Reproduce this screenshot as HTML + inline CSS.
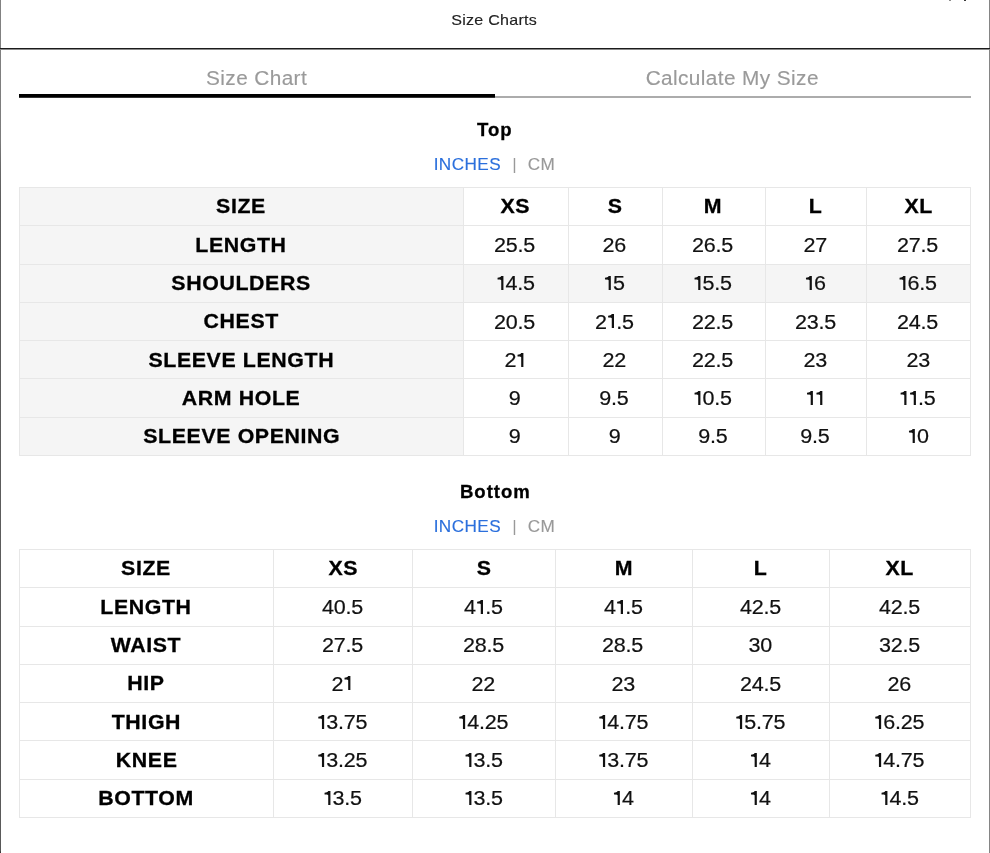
<!DOCTYPE html>
<html><head><meta charset="utf-8"><title>Size Charts</title>
<style>
:root{--g1:#f5f5f5;--g2:#f5f5f5;--bd:#e7e7e7;}
*{margin:0;padding:0;box-sizing:border-box;}
html,body{width:990px;height:853px;overflow:hidden;background:#fff;}
body{font-family:"Liberation Sans",sans-serif;color:#111;}
#w{position:relative;width:990px;height:853px;background:#fff;will-change:transform;overflow:hidden;}
.abs{position:absolute;}
.lb{position:absolute;left:0;top:0;width:1px;height:853px;background:linear-gradient(#828282 0px,#7c7c7c 140px,#6a6a6a 165px,#5e5e5e 200px,#5a5a5a 840px,#555 851px,#333 852px);}
.rb{position:absolute;left:989px;top:0;width:1px;height:853px;background:#858585;}
.title{position:absolute;left:0;width:990px;text-align:center;font-size:15px;color:#222;letter-spacing:0.25px;-webkit-text-stroke:0.15px #222;}
.sx{display:inline-block;}
.hline{position:absolute;left:0;top:48px;width:990px;height:1px;background:#1c1c1c;}
.hline2{position:absolute;left:0;top:49px;width:990px;height:1px;background:#8a8a8a;}
.tab{position:absolute;width:476px;text-align:center;font-size:20px;color:#9a9a9a;letter-spacing:0.38px;-webkit-text-stroke:0.15px #9a9a9a;}
.tabg{position:absolute;left:19px;top:96px;width:952px;height:2px;background:#acacac;}
.tabb{position:absolute;left:19px;top:94px;width:476px;height:3px;background:#000;}
.tabb2{position:absolute;left:19px;top:97px;width:476px;height:1px;background:#333;}
.sec{position:absolute;left:0;width:990px;text-align:center;font-size:17.5px;font-weight:bold;color:#000;letter-spacing:0.9px;-webkit-text-stroke:0.3px #000;}
.unit{position:absolute;left:-1px;width:990px;text-align:center;font-size:16.5px;letter-spacing:0.4px;}
.unit .in{color:#2b6fdc;-webkit-text-stroke:0.15px #2b6fdc;}
.unit .sep{color:#999;padding:0 10.3px 0 10.8px;}
.unit .cm{color:#999;-webkit-text-stroke:0.15px #999;}
.c{position:absolute;display:flex;align-items:center;justify-content:center;white-space:nowrap;}
.c span{position:relative;display:inline-block;}
.c.d{font-size:20.5px;color:#111;letter-spacing:-0.2px;-webkit-text-stroke:0.2px #111;}
.c.d span{top:0.0px;left:-0.8px;transform:scaleX(1.05);}
.c.h{font-weight:bold;color:#000;letter-spacing:0.6px;font-size:20.5px;-webkit-text-stroke:0.3px #000;}
.c.h span{top:-0.2px;left:-0.2px;transform:scaleX(1.04);}
svg.one{display:inline-block;width:9px;height:14.1px;vertical-align:baseline;fill:#111;}
.hl{position:absolute;height:1px;background:var(--bd);}
.vl{position:absolute;width:1px;background:var(--bd);}
.xm{position:absolute;top:0;height:1px;}
</style></head>
<body><div id="w">
<div class="lb"></div><div class="rb"></div>
<div class="xm" style="left:949px;width:2px;background:#8c8c8c"></div>
<div class="xm" style="left:964px;width:2px;background:#3a3a3a"></div>
<div class="title" style="top:9.5px;left:-0.6px;line-height:20px"><span class="sx" style="transform:scaleX(1.07)">Size Charts</span></div>
<div class="hline"></div><div class="hline2"></div>
<div class="tab" style="left:18.6px;top:64px;line-height:28px"><span class="sx" style="transform:scaleX(1.04)">Size Chart</span></div>
<div class="tab" style="left:494.2px;top:64px;line-height:28px"><span class="sx" style="transform:scaleX(1.04)">Calculate My Size</span></div>
<div class="tabg"></div>
<div class="tabb"></div><div class="tabb2"></div>

<div class="sec" style="top:118px;line-height:24px"><span class="sx" style="transform:scaleX(1.06)">Top</span></div>
<div class="unit" style="top:153px;line-height:22px"><span class="sx" style="transform:scaleX(1.04)"><span class="in">INCHES</span><span class="sep">|</span><span class="cm">CM</span></span></div>
<div class="c h" style="left:19.50px;top:187.50px;width:444.00px;height:38.286px;background:var(--g1);"><span>SIZE</span></div>
<div class="c h" style="left:463.50px;top:187.50px;width:104.50px;height:38.286px;"><span>XS</span></div>
<div class="c h" style="left:568.00px;top:187.50px;width:94.00px;height:38.286px;"><span>S</span></div>
<div class="c h" style="left:662.00px;top:187.50px;width:103.00px;height:38.286px;"><span>M</span></div>
<div class="c h" style="left:765.00px;top:187.50px;width:101.90px;height:38.286px;"><span>L</span></div>
<div class="c h" style="left:866.90px;top:187.50px;width:103.40px;height:38.286px;"><span>XL</span></div>
<div class="c h" style="left:19.50px;top:225.79px;width:444.00px;height:38.286px;background:var(--g1);"><span>LENGTH</span></div>
<div class="c d" style="left:463.50px;top:225.79px;width:104.50px;height:38.286px;"><span>25.5</span></div>
<div class="c d" style="left:568.00px;top:225.79px;width:94.00px;height:38.286px;"><span>26</span></div>
<div class="c d" style="left:662.00px;top:225.79px;width:103.00px;height:38.286px;"><span>26.5</span></div>
<div class="c d" style="left:765.00px;top:225.79px;width:101.90px;height:38.286px;"><span>27</span></div>
<div class="c d" style="left:866.90px;top:225.79px;width:103.40px;height:38.286px;"><span>27.5</span></div>
<div class="c h" style="left:19.50px;top:264.07px;width:444.00px;height:38.286px;background:var(--g1);"><span>SHOULDERS</span></div>
<div class="c d" style="left:463.50px;top:264.07px;width:104.50px;height:38.286px;background:var(--g2);"><span><svg class="one" viewBox="0 0 90 141"><path d="M49 0L70 0L70 141L49 141L49 42C42 36 28 35 14 35L14 17C30 17 45 10 49 0Z"/></svg>4.5</span></div>
<div class="c d" style="left:568.00px;top:264.07px;width:94.00px;height:38.286px;background:var(--g2);"><span><svg class="one" viewBox="0 0 90 141"><path d="M49 0L70 0L70 141L49 141L49 42C42 36 28 35 14 35L14 17C30 17 45 10 49 0Z"/></svg>5</span></div>
<div class="c d" style="left:662.00px;top:264.07px;width:103.00px;height:38.286px;background:var(--g2);"><span><svg class="one" viewBox="0 0 90 141"><path d="M49 0L70 0L70 141L49 141L49 42C42 36 28 35 14 35L14 17C30 17 45 10 49 0Z"/></svg>5.5</span></div>
<div class="c d" style="left:765.00px;top:264.07px;width:101.90px;height:38.286px;background:var(--g2);"><span><svg class="one" viewBox="0 0 90 141"><path d="M49 0L70 0L70 141L49 141L49 42C42 36 28 35 14 35L14 17C30 17 45 10 49 0Z"/></svg>6</span></div>
<div class="c d" style="left:866.90px;top:264.07px;width:103.40px;height:38.286px;background:var(--g2);"><span><svg class="one" viewBox="0 0 90 141"><path d="M49 0L70 0L70 141L49 141L49 42C42 36 28 35 14 35L14 17C30 17 45 10 49 0Z"/></svg>6.5</span></div>
<div class="c h" style="left:19.50px;top:302.36px;width:444.00px;height:38.286px;background:var(--g1);"><span>CHEST</span></div>
<div class="c d" style="left:463.50px;top:302.36px;width:104.50px;height:38.286px;"><span>20.5</span></div>
<div class="c d" style="left:568.00px;top:302.36px;width:94.00px;height:38.286px;"><span>2<svg class="one" viewBox="0 0 90 141"><path d="M49 0L70 0L70 141L49 141L49 42C42 36 28 35 14 35L14 17C30 17 45 10 49 0Z"/></svg>.5</span></div>
<div class="c d" style="left:662.00px;top:302.36px;width:103.00px;height:38.286px;"><span>22.5</span></div>
<div class="c d" style="left:765.00px;top:302.36px;width:101.90px;height:38.286px;"><span>23.5</span></div>
<div class="c d" style="left:866.90px;top:302.36px;width:103.40px;height:38.286px;"><span>24.5</span></div>
<div class="c h" style="left:19.50px;top:340.64px;width:444.00px;height:38.286px;background:var(--g1);"><span>SLEEVE LENGTH</span></div>
<div class="c d" style="left:463.50px;top:340.64px;width:104.50px;height:38.286px;"><span>2<svg class="one" viewBox="0 0 90 141"><path d="M49 0L70 0L70 141L49 141L49 42C42 36 28 35 14 35L14 17C30 17 45 10 49 0Z"/></svg></span></div>
<div class="c d" style="left:568.00px;top:340.64px;width:94.00px;height:38.286px;"><span>22</span></div>
<div class="c d" style="left:662.00px;top:340.64px;width:103.00px;height:38.286px;"><span>22.5</span></div>
<div class="c d" style="left:765.00px;top:340.64px;width:101.90px;height:38.286px;"><span>23</span></div>
<div class="c d" style="left:866.90px;top:340.64px;width:103.40px;height:38.286px;"><span>23</span></div>
<div class="c h" style="left:19.50px;top:378.93px;width:444.00px;height:38.286px;background:var(--g1);"><span>ARM HOLE</span></div>
<div class="c d" style="left:463.50px;top:378.93px;width:104.50px;height:38.286px;"><span>9</span></div>
<div class="c d" style="left:568.00px;top:378.93px;width:94.00px;height:38.286px;"><span>9.5</span></div>
<div class="c d" style="left:662.00px;top:378.93px;width:103.00px;height:38.286px;"><span><svg class="one" viewBox="0 0 90 141"><path d="M49 0L70 0L70 141L49 141L49 42C42 36 28 35 14 35L14 17C30 17 45 10 49 0Z"/></svg>0.5</span></div>
<div class="c d" style="left:765.00px;top:378.93px;width:101.90px;height:38.286px;"><span><svg class="one" viewBox="0 0 90 141"><path d="M49 0L70 0L70 141L49 141L49 42C42 36 28 35 14 35L14 17C30 17 45 10 49 0Z"/></svg><svg class="one" viewBox="0 0 90 141"><path d="M49 0L70 0L70 141L49 141L49 42C42 36 28 35 14 35L14 17C30 17 45 10 49 0Z"/></svg></span></div>
<div class="c d" style="left:866.90px;top:378.93px;width:103.40px;height:38.286px;"><span><svg class="one" viewBox="0 0 90 141"><path d="M49 0L70 0L70 141L49 141L49 42C42 36 28 35 14 35L14 17C30 17 45 10 49 0Z"/></svg><svg class="one" viewBox="0 0 90 141"><path d="M49 0L70 0L70 141L49 141L49 42C42 36 28 35 14 35L14 17C30 17 45 10 49 0Z"/></svg>.5</span></div>
<div class="c h" style="left:19.50px;top:417.21px;width:444.00px;height:38.286px;background:var(--g1);"><span>SLEEVE OPENING</span></div>
<div class="c d" style="left:463.50px;top:417.21px;width:104.50px;height:38.286px;"><span>9</span></div>
<div class="c d" style="left:568.00px;top:417.21px;width:94.00px;height:38.286px;"><span>9</span></div>
<div class="c d" style="left:662.00px;top:417.21px;width:103.00px;height:38.286px;"><span>9.5</span></div>
<div class="c d" style="left:765.00px;top:417.21px;width:101.90px;height:38.286px;"><span>9.5</span></div>
<div class="c d" style="left:866.90px;top:417.21px;width:103.40px;height:38.286px;"><span><svg class="one" viewBox="0 0 90 141"><path d="M49 0L70 0L70 141L49 141L49 42C42 36 28 35 14 35L14 17C30 17 45 10 49 0Z"/></svg>0</span></div>
<div class="hl" style="left:19.00px;top:187.00px;width:951.80px"></div>
<div class="hl" style="left:19.00px;top:225.29px;width:951.80px"></div>
<div class="hl" style="left:19.00px;top:263.57px;width:951.80px"></div>
<div class="hl" style="left:19.00px;top:301.86px;width:951.80px"></div>
<div class="hl" style="left:19.00px;top:340.14px;width:951.80px"></div>
<div class="hl" style="left:19.00px;top:378.43px;width:951.80px"></div>
<div class="hl" style="left:19.00px;top:416.71px;width:951.80px"></div>
<div class="hl" style="left:19.00px;top:455.00px;width:951.80px"></div>
<div class="vl" style="left:19.00px;top:187.00px;height:269.00px"></div>
<div class="vl" style="left:463.00px;top:187.00px;height:269.00px"></div>
<div class="vl" style="left:567.50px;top:187.00px;height:269.00px"></div>
<div class="vl" style="left:661.50px;top:187.00px;height:269.00px"></div>
<div class="vl" style="left:764.50px;top:187.00px;height:269.00px"></div>
<div class="vl" style="left:866.40px;top:187.00px;height:269.00px"></div>
<div class="vl" style="left:969.80px;top:187.00px;height:269.00px"></div>

<div class="sec" style="top:480px;line-height:24px;left:0.75px"><span class="sx" style="transform:scaleX(1.06)">Bottom</span></div>
<div class="unit" style="top:515px;line-height:22px"><span class="sx" style="transform:scaleX(1.04)"><span class="in">INCHES</span><span class="sep">|</span><span class="cm">CM</span></span></div>
<div class="c h" style="left:19.50px;top:549.50px;width:254.00px;height:38.286px;"><span>SIZE</span></div>
<div class="c h" style="left:273.50px;top:549.50px;width:139.40px;height:38.286px;"><span>XS</span></div>
<div class="c h" style="left:412.90px;top:549.50px;width:142.10px;height:38.286px;"><span>S</span></div>
<div class="c h" style="left:555.00px;top:549.50px;width:137.70px;height:38.286px;"><span>M</span></div>
<div class="c h" style="left:692.70px;top:549.50px;width:136.80px;height:38.286px;"><span>L</span></div>
<div class="c h" style="left:829.50px;top:549.50px;width:140.80px;height:38.286px;"><span>XL</span></div>
<div class="c h" style="left:19.50px;top:587.79px;width:254.00px;height:38.286px;"><span>LENGTH</span></div>
<div class="c d" style="left:273.50px;top:587.79px;width:139.40px;height:38.286px;"><span>40.5</span></div>
<div class="c d" style="left:412.90px;top:587.79px;width:142.10px;height:38.286px;"><span>4<svg class="one" viewBox="0 0 90 141"><path d="M49 0L70 0L70 141L49 141L49 42C42 36 28 35 14 35L14 17C30 17 45 10 49 0Z"/></svg>.5</span></div>
<div class="c d" style="left:555.00px;top:587.79px;width:137.70px;height:38.286px;"><span>4<svg class="one" viewBox="0 0 90 141"><path d="M49 0L70 0L70 141L49 141L49 42C42 36 28 35 14 35L14 17C30 17 45 10 49 0Z"/></svg>.5</span></div>
<div class="c d" style="left:692.70px;top:587.79px;width:136.80px;height:38.286px;"><span>42.5</span></div>
<div class="c d" style="left:829.50px;top:587.79px;width:140.80px;height:38.286px;"><span>42.5</span></div>
<div class="c h" style="left:19.50px;top:626.07px;width:254.00px;height:38.286px;"><span>WAIST</span></div>
<div class="c d" style="left:273.50px;top:626.07px;width:139.40px;height:38.286px;"><span>27.5</span></div>
<div class="c d" style="left:412.90px;top:626.07px;width:142.10px;height:38.286px;"><span>28.5</span></div>
<div class="c d" style="left:555.00px;top:626.07px;width:137.70px;height:38.286px;"><span>28.5</span></div>
<div class="c d" style="left:692.70px;top:626.07px;width:136.80px;height:38.286px;"><span>30</span></div>
<div class="c d" style="left:829.50px;top:626.07px;width:140.80px;height:38.286px;"><span>32.5</span></div>
<div class="c h" style="left:19.50px;top:664.36px;width:254.00px;height:38.286px;"><span>HIP</span></div>
<div class="c d" style="left:273.50px;top:664.36px;width:139.40px;height:38.286px;"><span>2<svg class="one" viewBox="0 0 90 141"><path d="M49 0L70 0L70 141L49 141L49 42C42 36 28 35 14 35L14 17C30 17 45 10 49 0Z"/></svg></span></div>
<div class="c d" style="left:412.90px;top:664.36px;width:142.10px;height:38.286px;"><span>22</span></div>
<div class="c d" style="left:555.00px;top:664.36px;width:137.70px;height:38.286px;"><span>23</span></div>
<div class="c d" style="left:692.70px;top:664.36px;width:136.80px;height:38.286px;"><span>24.5</span></div>
<div class="c d" style="left:829.50px;top:664.36px;width:140.80px;height:38.286px;"><span>26</span></div>
<div class="c h" style="left:19.50px;top:702.64px;width:254.00px;height:38.286px;"><span>THIGH</span></div>
<div class="c d" style="left:273.50px;top:702.64px;width:139.40px;height:38.286px;"><span><svg class="one" viewBox="0 0 90 141"><path d="M49 0L70 0L70 141L49 141L49 42C42 36 28 35 14 35L14 17C30 17 45 10 49 0Z"/></svg>3.75</span></div>
<div class="c d" style="left:412.90px;top:702.64px;width:142.10px;height:38.286px;"><span><svg class="one" viewBox="0 0 90 141"><path d="M49 0L70 0L70 141L49 141L49 42C42 36 28 35 14 35L14 17C30 17 45 10 49 0Z"/></svg>4.25</span></div>
<div class="c d" style="left:555.00px;top:702.64px;width:137.70px;height:38.286px;"><span><svg class="one" viewBox="0 0 90 141"><path d="M49 0L70 0L70 141L49 141L49 42C42 36 28 35 14 35L14 17C30 17 45 10 49 0Z"/></svg>4.75</span></div>
<div class="c d" style="left:692.70px;top:702.64px;width:136.80px;height:38.286px;"><span><svg class="one" viewBox="0 0 90 141"><path d="M49 0L70 0L70 141L49 141L49 42C42 36 28 35 14 35L14 17C30 17 45 10 49 0Z"/></svg>5.75</span></div>
<div class="c d" style="left:829.50px;top:702.64px;width:140.80px;height:38.286px;"><span><svg class="one" viewBox="0 0 90 141"><path d="M49 0L70 0L70 141L49 141L49 42C42 36 28 35 14 35L14 17C30 17 45 10 49 0Z"/></svg>6.25</span></div>
<div class="c h" style="left:19.50px;top:740.93px;width:254.00px;height:38.286px;"><span>KNEE</span></div>
<div class="c d" style="left:273.50px;top:740.93px;width:139.40px;height:38.286px;"><span><svg class="one" viewBox="0 0 90 141"><path d="M49 0L70 0L70 141L49 141L49 42C42 36 28 35 14 35L14 17C30 17 45 10 49 0Z"/></svg>3.25</span></div>
<div class="c d" style="left:412.90px;top:740.93px;width:142.10px;height:38.286px;"><span><svg class="one" viewBox="0 0 90 141"><path d="M49 0L70 0L70 141L49 141L49 42C42 36 28 35 14 35L14 17C30 17 45 10 49 0Z"/></svg>3.5</span></div>
<div class="c d" style="left:555.00px;top:740.93px;width:137.70px;height:38.286px;"><span><svg class="one" viewBox="0 0 90 141"><path d="M49 0L70 0L70 141L49 141L49 42C42 36 28 35 14 35L14 17C30 17 45 10 49 0Z"/></svg>3.75</span></div>
<div class="c d" style="left:692.70px;top:740.93px;width:136.80px;height:38.286px;"><span><svg class="one" viewBox="0 0 90 141"><path d="M49 0L70 0L70 141L49 141L49 42C42 36 28 35 14 35L14 17C30 17 45 10 49 0Z"/></svg>4</span></div>
<div class="c d" style="left:829.50px;top:740.93px;width:140.80px;height:38.286px;"><span><svg class="one" viewBox="0 0 90 141"><path d="M49 0L70 0L70 141L49 141L49 42C42 36 28 35 14 35L14 17C30 17 45 10 49 0Z"/></svg>4.75</span></div>
<div class="c h" style="left:19.50px;top:779.21px;width:254.00px;height:38.286px;"><span>BOTTOM</span></div>
<div class="c d" style="left:273.50px;top:779.21px;width:139.40px;height:38.286px;"><span><svg class="one" viewBox="0 0 90 141"><path d="M49 0L70 0L70 141L49 141L49 42C42 36 28 35 14 35L14 17C30 17 45 10 49 0Z"/></svg>3.5</span></div>
<div class="c d" style="left:412.90px;top:779.21px;width:142.10px;height:38.286px;"><span><svg class="one" viewBox="0 0 90 141"><path d="M49 0L70 0L70 141L49 141L49 42C42 36 28 35 14 35L14 17C30 17 45 10 49 0Z"/></svg>3.5</span></div>
<div class="c d" style="left:555.00px;top:779.21px;width:137.70px;height:38.286px;"><span><svg class="one" viewBox="0 0 90 141"><path d="M49 0L70 0L70 141L49 141L49 42C42 36 28 35 14 35L14 17C30 17 45 10 49 0Z"/></svg>4</span></div>
<div class="c d" style="left:692.70px;top:779.21px;width:136.80px;height:38.286px;"><span><svg class="one" viewBox="0 0 90 141"><path d="M49 0L70 0L70 141L49 141L49 42C42 36 28 35 14 35L14 17C30 17 45 10 49 0Z"/></svg>4</span></div>
<div class="c d" style="left:829.50px;top:779.21px;width:140.80px;height:38.286px;"><span><svg class="one" viewBox="0 0 90 141"><path d="M49 0L70 0L70 141L49 141L49 42C42 36 28 35 14 35L14 17C30 17 45 10 49 0Z"/></svg>4.5</span></div>
<div class="hl" style="left:19.00px;top:549.00px;width:951.80px"></div>
<div class="hl" style="left:19.00px;top:587.29px;width:951.80px"></div>
<div class="hl" style="left:19.00px;top:625.57px;width:951.80px"></div>
<div class="hl" style="left:19.00px;top:663.86px;width:951.80px"></div>
<div class="hl" style="left:19.00px;top:702.14px;width:951.80px"></div>
<div class="hl" style="left:19.00px;top:740.43px;width:951.80px"></div>
<div class="hl" style="left:19.00px;top:778.71px;width:951.80px"></div>
<div class="hl" style="left:19.00px;top:817.00px;width:951.80px"></div>
<div class="vl" style="left:19.00px;top:549.00px;height:269.00px"></div>
<div class="vl" style="left:273.00px;top:549.00px;height:269.00px"></div>
<div class="vl" style="left:412.40px;top:549.00px;height:269.00px"></div>
<div class="vl" style="left:554.50px;top:549.00px;height:269.00px"></div>
<div class="vl" style="left:692.20px;top:549.00px;height:269.00px"></div>
<div class="vl" style="left:829.00px;top:549.00px;height:269.00px"></div>
<div class="vl" style="left:969.80px;top:549.00px;height:269.00px"></div>
</div></body></html>
